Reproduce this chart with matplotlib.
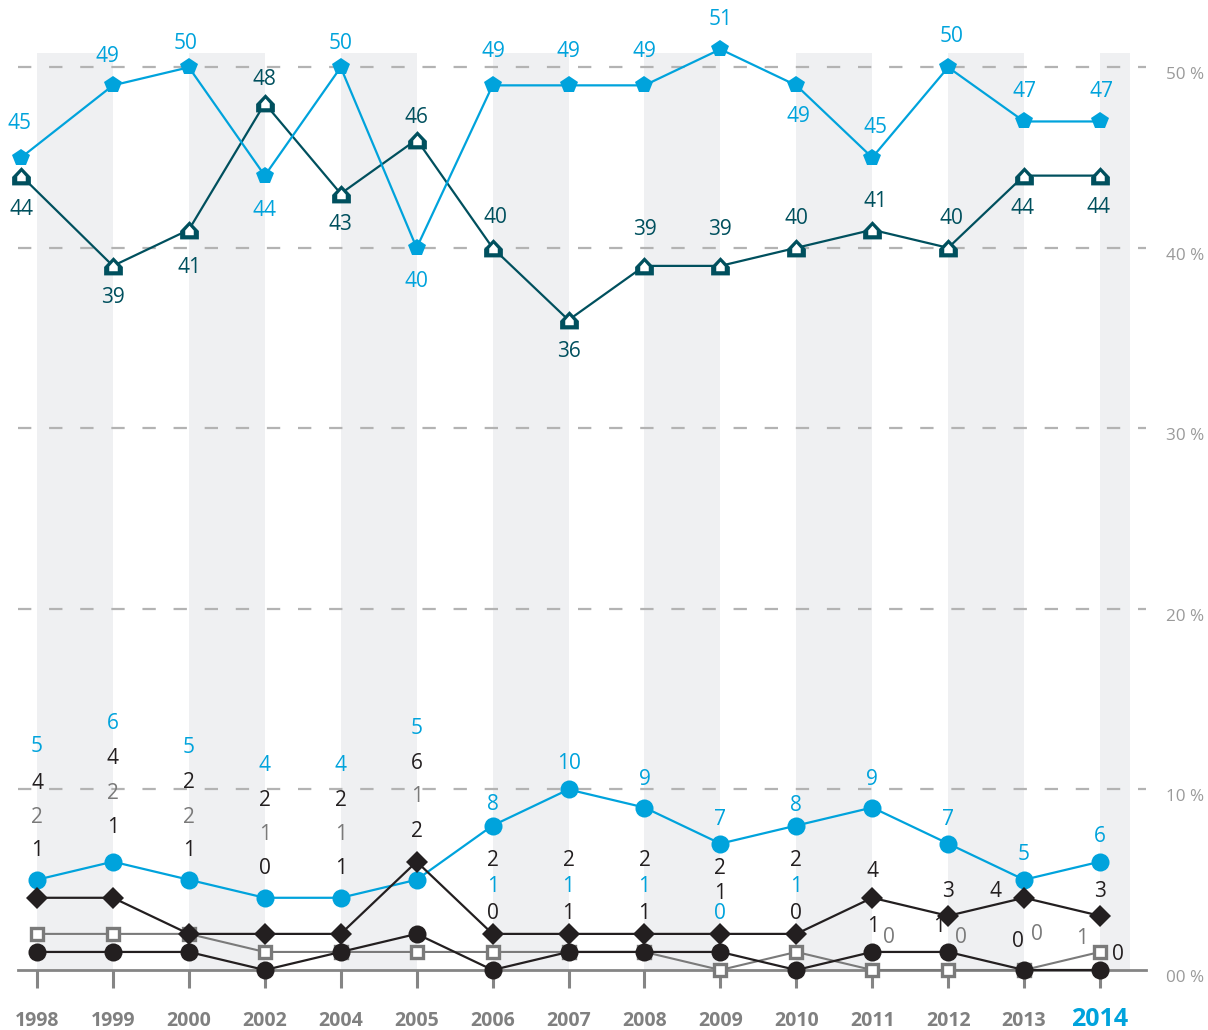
import matplotlib
matplotlib.use("Agg")
import matplotlib.pyplot as plt
import numpy as np
from matplotlib.path import Path

# data
years = ["1998", "1999", "2000", "2002", "2004", "2005", "2006", "2007",
         "2008", "2009", "2010", "2011", "2012", "2013", "2014"]
pentagon_vals = [45, 49, 50, 44, 50, 40, 49, 49, 49, 51, 49, 45, 50, 47, 47]
house_vals = [44, 39, 41, 48, 43, 46, 40, 36, 39, 39, 40, 41, 40, 44, 44]
blue_circle_vals = [5, 6, 5, 4, 4, 5, 8, 10, 9, 7, 8, 9, 7, 5, 6]
diamond_vals = [4, 4, 2, 2, 2, 6, 2, 2, 2, 2, 2, 4, 3, 4, 3]
square_vals = [2, 2, 2, 1, 1, 1, 1, 1, 1, 0, 1, 0, 0, 0, 1]
black_circle_vals = [1, 1, 1, 0, 1, 2, 0, 1, 1, 1, 0, 1, 1, 0, 0]
y_ticks = [0, 10, 20, 30, 40, 50]
y_tick_labels = ["00 %", "10 %", "20 %", "30 %", "40 %", "50 %"]

# label layout: offsets in pixels (dx right, dy up) of the label centre from its marker
pent_dy = [36, 30, 25, -33, 25, -32, 35, 35, 35, 31, -30, 32, 32, 31, 31]
pent_dx = [-2, -5, -3, 0, 0, 0, 1, 0, 0, 0, 2, 3, 3, 0, 1]
house_dy = [-32, -30, -36, 25, -29, 24, 32, -30, 38, 38, 31, 30, 31, -31, -30]
house_dx = [0, 0, 1, 0, 0, 0, 3, 0, 0, 0, 0, 3, 3, -2, -2]
bc_dy = [135, 140, 134, 134, 134, 153, 23, 27, 30, 26, 22, 30, 26, 27, 27]
dia_dy = [116, 141, 153, 135, 135, 100, 75, 75, 75, 67, 75, 28, 26, 8, 26]
dia_dx = [0, 0, 0, 0, 0, 0, 0, 0, 0, 0, 0, 0, 0, -29, 0]
sq_dy = [118, 142, 118, 119, 119, 157, 67, 67, 67, 58, 67, 34, 34, 37, 15]
sq_dx = [0, 0, 0, 0, 0, 0, 0, 0, 0, 0, 0, 17, 13, 13, -18]
kc_dy = [103, 126, 103, 103, 85, 104, 58, 40, 40, 60, 58, 27, 27, 30, 17]
kc_dx = [0, 0, 0, 0, 0, 0, 0, 0, 0, 0, 0, 1, -9, -6, 18]

BLUE = "#00a3dc"
TEAL = "#00505e"
BLACK = "#231f20"
GREY = "#7a7a7a"
sq_label_colors = [GREY] * 6 + [BLUE] * 5 + [GREY] * 4

plt.rcParams["font.family"] = ["Open Sans", "DejaVu Sans"]

X_PX = 75.93   # pixels per category step
Y_PX = 18.054  # pixels per percentage point

fig = plt.figure(figsize=(12.08, 10.30), dpi=100)
ax = fig.add_axes([0, 0, 1, 1])
ax.set_xlim(-37 / X_PX, (1208 - 37) / X_PX)
ax.set_ylim(-(1030 - 970) / Y_PX, 970 / Y_PX)
ax.axis("off")

x = np.arange(len(years))
top_x = x.astype(float)
top_x[0] -= 0.21  # first point of the upper series sits left of the tick

x_left, x_right = -0.25, 14.6

# alternating background bands
band_starts = np.arange(0, len(years), 2)
band_widths = [1.0] * (len(band_starts) - 1) + [0.4]
ax.bar(band_starts, 50.8, width=band_widths, align="edge", color="#eff0f2", zorder=0)

# dashed gridlines
for yt in y_ticks[1:]:
    ax.plot([x_left, x_right], [yt, yt], color="#b3b3b3", lw=1.6,
            linestyle=(0, (6.0, 8.0)), zorder=1)
ax.plot([x_left, x_right], [0, 0], color="#858585", lw=2.0, zorder=1)
ax.vlines(x, -18 / Y_PX, 0, color="#858585", lw=2.2, zorder=1)

for yt, lab in zip(y_ticks, y_tick_labels):
    ax.annotate(lab, (x_left, yt), xytext=(1166 - 18, -12), textcoords="offset pixels",
                ha="left", va="baseline", fontsize=12.3, color="#9a9a9a")

for xi, yr in zip(x, years):
    last = yr == years[-1]
    ax.annotate(yr, (xi, 0), xytext=(0, -56), textcoords="offset pixels",
                ha="center", va="baseline", fontweight="bold",
                fontsize=18 if last else 14, color=BLUE if last else "#808080")

# house marker: dark outline with white inner house
house_outer = Path([(-1, -0.95), (1, -0.95), (1, -0.05), (0, 1), (-1, -0.05), (-1, -0.95)],
                   [Path.MOVETO] + [Path.LINETO] * 4 + [Path.CLOSEPOLY])
house_inner = Path([(-0.45, -0.5), (0.45, -0.5), (0.45, 0.0), (0, 0.5), (-0.45, 0.0), (-0.45, -0.5)],
                   [Path.MOVETO] + [Path.LINETO] * 4 + [Path.CLOSEPOLY])

# upper series
ax.plot(top_x, house_vals, color=TEAL, lw=1.6, marker=house_outer, ms=13.5,
        mfc=TEAL, mec=TEAL, mew=0, zorder=4)
ax.plot(top_x, house_vals, ls="none", marker=house_inner, ms=6.8,
        mfc="white", mew=0, zorder=5)
ax.plot(top_x, pentagon_vals, color=BLUE, lw=1.6, marker="p", ms=13,
        mfc=BLUE, mec=BLUE, mew=0, zorder=4)

# lower series
ax.plot(x, square_vals, color=GREY, lw=1.5, marker="s", ms=8, mfc="white",
        mec=GREY, mew=2.4, zorder=3)
ax.plot(x, black_circle_vals, color=BLACK, lw=1.6, marker="o", ms=13,
        mfc=BLACK, mew=0, zorder=4)
ax.plot(x, blue_circle_vals, color=BLUE, lw=1.6, marker="o", ms=13,
        mfc=BLUE, mew=0, zorder=5)
ax.plot(x, diamond_vals, color=BLACK, lw=1.6, marker="D", ms=11.5,
        mfc=BLACK, mew=0, zorder=6)


def put_labels(xs, vals, dxs, dys, colors):
    for xi, v, dx, dy, c in zip(xs, vals, dxs, dys, colors):
        ax.annotate(str(v), (xi, v), xytext=(dx, dy - 7), textcoords="offset pixels",
                    ha="center", va="baseline", fontsize=15, color=c, zorder=8)


n = len(years)
zeros = [0] * n
put_labels(top_x, pentagon_vals, pent_dx, pent_dy, [BLUE] * n)
put_labels(top_x, house_vals, house_dx, house_dy, [TEAL] * n)
put_labels(x, blue_circle_vals, zeros, bc_dy, [BLUE] * n)
put_labels(x, diamond_vals, dia_dx, dia_dy, [BLACK] * n)
put_labels(x, square_vals, sq_dx, sq_dy, sq_label_colors)
put_labels(x, black_circle_vals, kc_dx, kc_dy, [BLACK] * n)

fig.savefig("out.png", dpi=100)
